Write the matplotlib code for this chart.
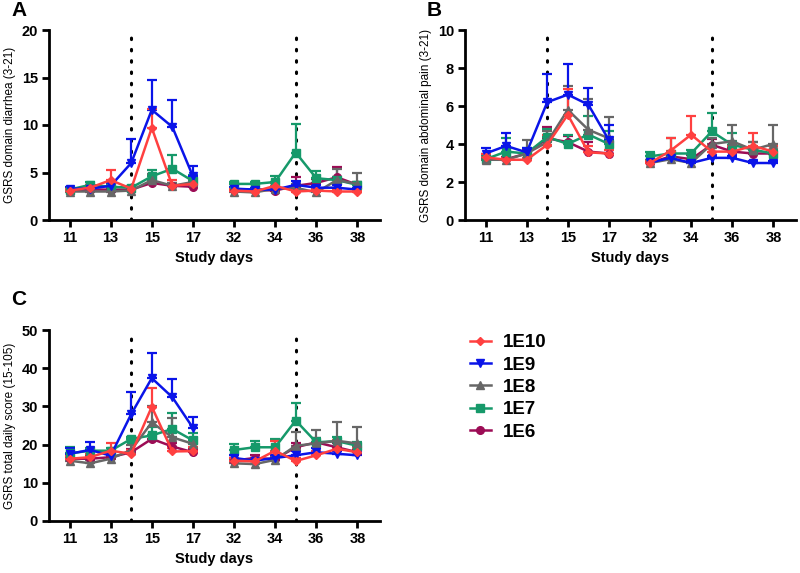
import numpy as np
import matplotlib
matplotlib.use("Agg")
import matplotlib.pyplot as plt
from matplotlib.lines import Line2D

plt.rcParams['font.family'] = ['Liberation Sans', 'DejaVu Sans']

# Data
days = [11, 12, 13, 14, 15, 16, 17, 32, 33, 34, 35, 36, 37, 38]
tick_days = [11, 13, 15, 17, 32, 34, 36, 38]
dose_days = [14, 35]
groups = ["1E10", "1E9", "1E8", "1E7", "1E6"]

# panel A: diarrhea domain (mean, upper error)
a_1e10 = [3.1, 3.4, 4.2, 3.3, 9.7, 3.6, 3.8, 3.1, 3.0, 3.6, 3.0, 3.1, 3.0, 3.0]
a_1e10_err = [0.2, 0.3, 1.1, 0.2, 2.0, 0.6, 0.5, 0.2, 0.2, 0.3, 0.2, 0.2, 0.2, 0.2]
a_1e9 = [3.3, 3.3, 3.6, 6.0, 11.6, 9.8, 4.6, 3.3, 3.2, 3.2, 3.7, 3.4, 3.4, 3.2]
a_1e9_err = [0.2, 0.4, 0.3, 2.5, 3.1, 2.8, 1.1, 0.2, 0.2, 0.2, 0.4, 0.3, 0.3, 0.2]
a_1e8 = [3.0, 3.0, 3.0, 3.1, 4.2, 3.6, 4.0, 3.0, 2.9, 3.3, 3.4, 2.9, 4.2, 3.8]
a_1e8_err = [0.2, 0.2, 0.2, 0.2, 0.6, 0.3, 0.4, 0.2, 0.2, 0.3, 0.4, 0.3, 1.2, 1.2]
a_1e7 = [3.2, 3.7, 3.5, 3.4, 4.6, 5.4, 4.1, 3.8, 3.8, 4.0, 7.1, 4.4, 4.2, 3.7]
a_1e7_err = [0.2, 0.3, 0.3, 0.2, 0.7, 1.4, 0.6, 0.2, 0.2, 0.6, 3.0, 0.8, 0.3, 0.3]
a_1e6 = [3.1, 3.2, 3.2, 3.2, 3.9, 3.6, 3.5, 3.2, 3.2, 3.1, 3.6, 3.9, 4.5, 3.7]
a_1e6_err = [0.2, 0.2, 0.2, 0.2, 0.3, 0.3, 0.3, 0.2, 0.2, 0.2, 0.9, 0.4, 1.1, 0.3]

# panel B: abdominal pain domain
b_1e10 = [3.3, 3.17, 3.17, 3.96, 5.54, 3.56, 3.5, 3.0, 3.65, 4.49, 3.6, 3.6, 3.9, 3.6]
b_1e10_err = [0.15, 0.1, 0.1, 0.5, 1.35, 0.35, 0.2, 0.1, 0.65, 1.0, 0.3, 0.3, 0.7, 0.3]
b_1e9 = [3.5, 3.9, 3.56, 6.2, 6.6, 6.07, 4.2, 3.03, 3.27, 3.0, 3.27, 3.27, 3.0, 3.0]
b_1e9_err = [0.3, 0.7, 0.25, 1.5, 1.6, 0.9, 0.8, 0.1, 0.1, 0.1, 0.1, 0.1, 0.1, 0.1]
b_1e8 = [3.17, 3.17, 3.5, 4.1, 5.8, 4.75, 4.3, 3.0, 3.2, 3.0, 4.0, 4.14, 3.7, 4.0]
b_1e8_err = [0.1, 0.1, 0.7, 0.6, 1.27, 1.6, 1.1, 0.15, 0.2, 0.15, 0.3, 0.86, 0.4, 1.0]
b_1e7 = [3.2, 3.6, 3.5, 4.37, 4.0, 4.5, 4.0, 3.35, 3.5, 3.5, 4.66, 3.96, 3.7, 3.5]
b_1e7_err = [0.15, 0.7, 0.3, 0.4, 0.5, 0.95, 0.7, 0.25, 0.8, 0.2, 0.95, 0.64, 0.4, 0.2]
b_1e6 = [3.2, 3.2, 3.5, 4.3, 4.1, 3.6, 3.5, 3.0, 3.35, 3.2, 3.96, 3.6, 3.5, 3.5]
b_1e6_err = [0.1, 0.1, 0.2, 0.6, 0.3, 0.5, 0.2, 0.1, 0.2, 0.2, 0.3, 0.2, 0.2, 0.2]

# panel C: total daily score
c_1e10 = [16.3, 16.7, 18.4, 17.6, 29.9, 18.2, 18.3, 15.8, 15.6, 18.4, 15.7, 17.2, 18.9, 18.0]
c_1e10_err = [0.8, 0.8, 1.9, 1.0, 4.9, 1.0, 1.0, 0.8, 0.8, 2.5, 0.8, 1.0, 2.3, 1.0]
c_1e9 = [17.6, 18.6, 17.1, 28.0, 37.4, 32.4, 24.4, 16.5, 15.8, 16.5, 17.2, 18.0, 17.6, 17.2]
c_1e9_err = [1.5, 2.0, 0.8, 5.9, 6.7, 4.9, 2.7, 0.8, 0.8, 0.8, 1.0, 1.0, 0.8, 0.8]
c_1e8 = [15.8, 15.1, 16.3, 18.6, 25.8, 21.9, 20.2, 15.1, 14.9, 16.0, 19.7, 20.3, 21.0, 20.3]
c_1e8_err = [0.8, 0.8, 0.8, 1.2, 4.4, 5.1, 1.5, 0.8, 0.8, 1.0, 3.5, 3.5, 4.8, 4.4]
c_1e7 = [17.7, 18.4, 18.4, 21.5, 22.4, 24.1, 21.1, 18.6, 19.3, 19.3, 26.3, 20.6, 20.9, 19.7]
c_1e7_err = [1.6, 0.8, 0.8, 0.5, 2.1, 4.1, 1.9, 1.6, 1.6, 2.2, 4.5, 1.0, 1.0, 1.0]
c_1e6 = [16.3, 16.3, 16.7, 18.0, 21.5, 19.5, 18.0, 15.8, 16.5, 16.2, 19.3, 20.6, 19.3, 18.0]
c_1e6_err = [0.8, 0.8, 0.8, 0.8, 1.0, 1.0, 0.8, 0.8, 0.8, 0.8, 1.2, 1.0, 1.0, 0.8]

colors = ["#ff4040", "#0a14e8", "#676767", "#16996a", "#9c0c55"]
markers = ["D", "v", "^", "s", "o"]
msizes = [4.5, 6, 6, 5.5, 5.5]


def pos(d):
    # days 32-38 sit right after day 17 with a two-day gap
    d = np.asarray(d, dtype=float)
    return np.where(d > 20, d - 13, d)


def panel(rect, series, ylim, yticks, ylabel):
    ax = fig.add_axes(rect)
    x = pos(days)
    first = np.array(days) < 20
    # draw 1E6 first, 1E10 on top; two separate periods
    for i in reversed(range(len(groups))):
        mean, err = np.array(series[i][0]), np.array(series[i][1])
        for m in [first, ~first]:
            ax.errorbar(x[m], mean[m], yerr=[np.zeros(m.sum()), err[m]],
                        color=colors[i], marker=markers[i], markersize=msizes[i],
                        lw=1.8, elinewidth=1.6, capsize=3.5, capthick=1.6)
    for d in dose_days:
        ax.axvline(pos(d), color="black", lw=2.2, ls=(0, (0.5, 3.2)),
                   dash_capstyle="round", zorder=0)
    ax.set_xlim(10, 26.1)
    ax.set_ylim(*ylim)
    ax.set_xticks(pos(tick_days))
    ax.set_xticklabels([str(d) for d in tick_days])
    ax.set_yticks(yticks)
    for s in ["top", "right"]:
        ax.spines[s].set_visible(False)
    for s in ["left", "bottom"]:
        ax.spines[s].set_linewidth(2)
    ax.tick_params(width=2, length=5, labelsize=10.5, pad=3)
    for lab in ax.get_xticklabels() + ax.get_yticklabels():
        lab.set_fontweight("bold")
    ax.set_xlabel("Study days", fontsize=10.5, fontweight="bold", labelpad=4)
    ax.set_ylabel(ylabel, fontsize=8.5)
    return ax


fig = plt.figure(figsize=(8, 5.73), dpi=100)
W, H = 800.0, 573.0

panel([49 / W, 1 - 220 / H, 331 / W, 190 / H],
      [(a_1e10, a_1e10_err), (a_1e9, a_1e9_err), (a_1e8, a_1e8_err),
       (a_1e7, a_1e7_err), (a_1e6, a_1e6_err)],
      (0, 20), [0, 5, 10, 15, 20], "GSRS domain diarrhea (3-21)")
panel([465 / W, 1 - 220 / H, 331 / W, 190 / H],
      [(b_1e10, b_1e10_err), (b_1e9, b_1e9_err), (b_1e8, b_1e8_err),
       (b_1e7, b_1e7_err), (b_1e6, b_1e6_err)],
      (0, 10), [0, 2, 4, 6, 8, 10], "GSRS domain abdominal pain (3-21)")
panel([49 / W, 1 - 521 / H, 331 / W, 191 / H],
      [(c_1e10, c_1e10_err), (c_1e9, c_1e9_err), (c_1e8, c_1e8_err),
       (c_1e7, c_1e7_err), (c_1e6, c_1e6_err)],
      (0, 50), [0, 10, 20, 30, 40, 50], "GSRS total daily score (15-105)")

# panel letters
for letter, px, py in [("A", 11, 1), ("B", 427, 1), ("C", 11, 290)]:
    fig.text(px / W, 1 - py / H, letter, fontsize=15, fontweight="bold",
             ha="left", va="top")

handles = [Line2D([], [], color=colors[i], marker=markers[i],
                  markersize=msizes[i], lw=1.8) for i in range(len(groups))]
fig.legend(handles, groups,
           loc="upper left", bbox_to_anchor=(470 / W, 1 - 334 / H),
           frameon=False, prop={"weight": "bold", "size": 13.5},
           handlelength=1.1, handletextpad=0.65, labelspacing=0.28,
           borderpad=0, borderaxespad=0)

fig.savefig("out.png", dpi=100)
